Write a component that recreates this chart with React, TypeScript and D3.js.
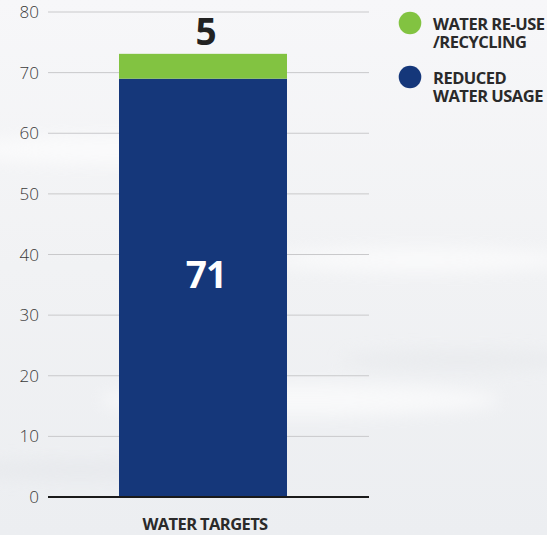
import React from "react";
import * as d3 from "d3";

const categories = ["WATER TARGETS"];
const seriesNames = ["REDUCED WATER USAGE", "WATER RE-USE /RECYCLING"];
const legendLines = [["WATER RE-USE", "/RECYCLING"], ["REDUCED", "WATER USAGE"]];
const reducedUsage = [69];
const reuseRecycling = [4.1];
const reducedLabels = ["71"];
const reuseLabels = ["5"];
const yTicks = [0, 10, 20, 30, 40, 50, 60, 70, 80];
const colors = ["#15377a", "#82c341"];

const W = 547, H = 535;
const FONT = "'Open Sans', 'DejaVu Sans', sans-serif";

export default function App() {
  const y = d3.scaleLinear().domain([0, 80]).range([497, 12]);
  const x = d3.scaleBand().domain(categories).range([119, 287]).padding(0);
  const stackData = categories.map((c, i) => ({ cat: c, a: reducedUsage[i], b: reuseRecycling[i] }));
  const stack = d3.stack<any>().keys(["a", "b"])(stackData);
  const labels = [reducedLabels, reuseLabels];

  return (
    <svg width={W} height={H} style={{ position: "absolute", left: 0, top: 0 }} fontFamily={FONT}>
      <defs>
        <linearGradient id="bg" x1="0" y1="0" x2="0" y2="1">
          <stop offset="0" stopColor="#f7f7f9" />
          <stop offset="0.5" stopColor="#f1f2f4" />
          <stop offset="1" stopColor="#eceef1" />
        </linearGradient>
        <filter id="blur"><feGaussianBlur stdDeviation="8" /></filter>
      </defs>
      <rect width={W} height={H} fill="url(#bg)" />
      <g filter="url(#blur)" opacity={0.6}>
        <ellipse cx={120} cy={150} rx={160} ry={14} fill="#ffffff" />
        <ellipse cx={420} cy={260} rx={150} ry={12} fill="#ffffff" />
        <ellipse cx={300} cy={400} rx={200} ry={16} fill="#ffffff" />
        <ellipse cx={80} cy={470} rx={120} ry={10} fill="#e4e6ea" />
        <ellipse cx={460} cy={360} rx={120} ry={10} fill="#e6e8eb" />
      </g>
      {yTicks.map((t) => (
        <g key={t}>
          {t !== 0 && <line x1={48} x2={369} y1={y(t)} y2={y(t)} stroke="#c9c9cb" strokeWidth={1} />}
          <text x={39} y={y(t)} dy="0.36em" textAnchor="end" fontSize={17} fill="#3a3a3a" fontWeight={300}>{t}</text>
        </g>
      ))}
      {stack.map((s, si) => (
        <g key={si}>
          {s.map((d, di) => (
            <rect key={di} x={x(d.data.cat)} width={x.bandwidth()} y={y(d[1])} height={y(d[0]) - y(d[1])} fill={colors[si]} />
          ))}
        </g>
      ))}
      {stack[0].map((d, di) => (
        <text key={"l0" + di} x={(x(d.data.cat) as number) + x.bandwidth() / 2 + 3} y={(y(d[0]) + y(d[1])) / 2} textAnchor="middle" fontSize={37} fontWeight={700} fill="#ffffff" letterSpacing={-1}>{labels[0][di]}</text>
      ))}
      {stack[1].map((d, di) => (
        <text key={"l1" + di} x={(x(d.data.cat) as number) + x.bandwidth() / 2 + 3} y={y(d[1]) - 9} textAnchor="middle" fontSize={37} fontWeight={700} fill="#222222">{labels[1][di]}</text>
      ))}
      <line x1={48} x2={369} y1={y(0)} y2={y(0)} stroke="#1a1a1a" strokeWidth={2} />
      {categories.map((c) => (
        <text key={c} x={(x(c) as number) + x.bandwidth() / 2 + 2} y={530} textAnchor="middle" fontSize={16.5} fontWeight={700} fill="#2a2a2a" letterSpacing={-0.6}>{c}</text>
      ))}
      {[1, 0].map((si, k) => (
        <g key={si} transform={`translate(0, ${k * 54})`} aria-label={seriesNames[si]}>
          <circle cx={410} cy={23} r={11.3} fill={colors[si]} />
          <text x={433} y={30} fontSize={16.5} fontWeight={700} fill="#2a2a2a" letterSpacing={-0.5}>{legendLines[k][0]}</text>
          <text x={433} y={48} fontSize={16.5} fontWeight={700} fill="#2a2a2a" letterSpacing={-0.5}>{legendLines[k][1]}</text>
        </g>
      ))}
    </svg>
  );
}
